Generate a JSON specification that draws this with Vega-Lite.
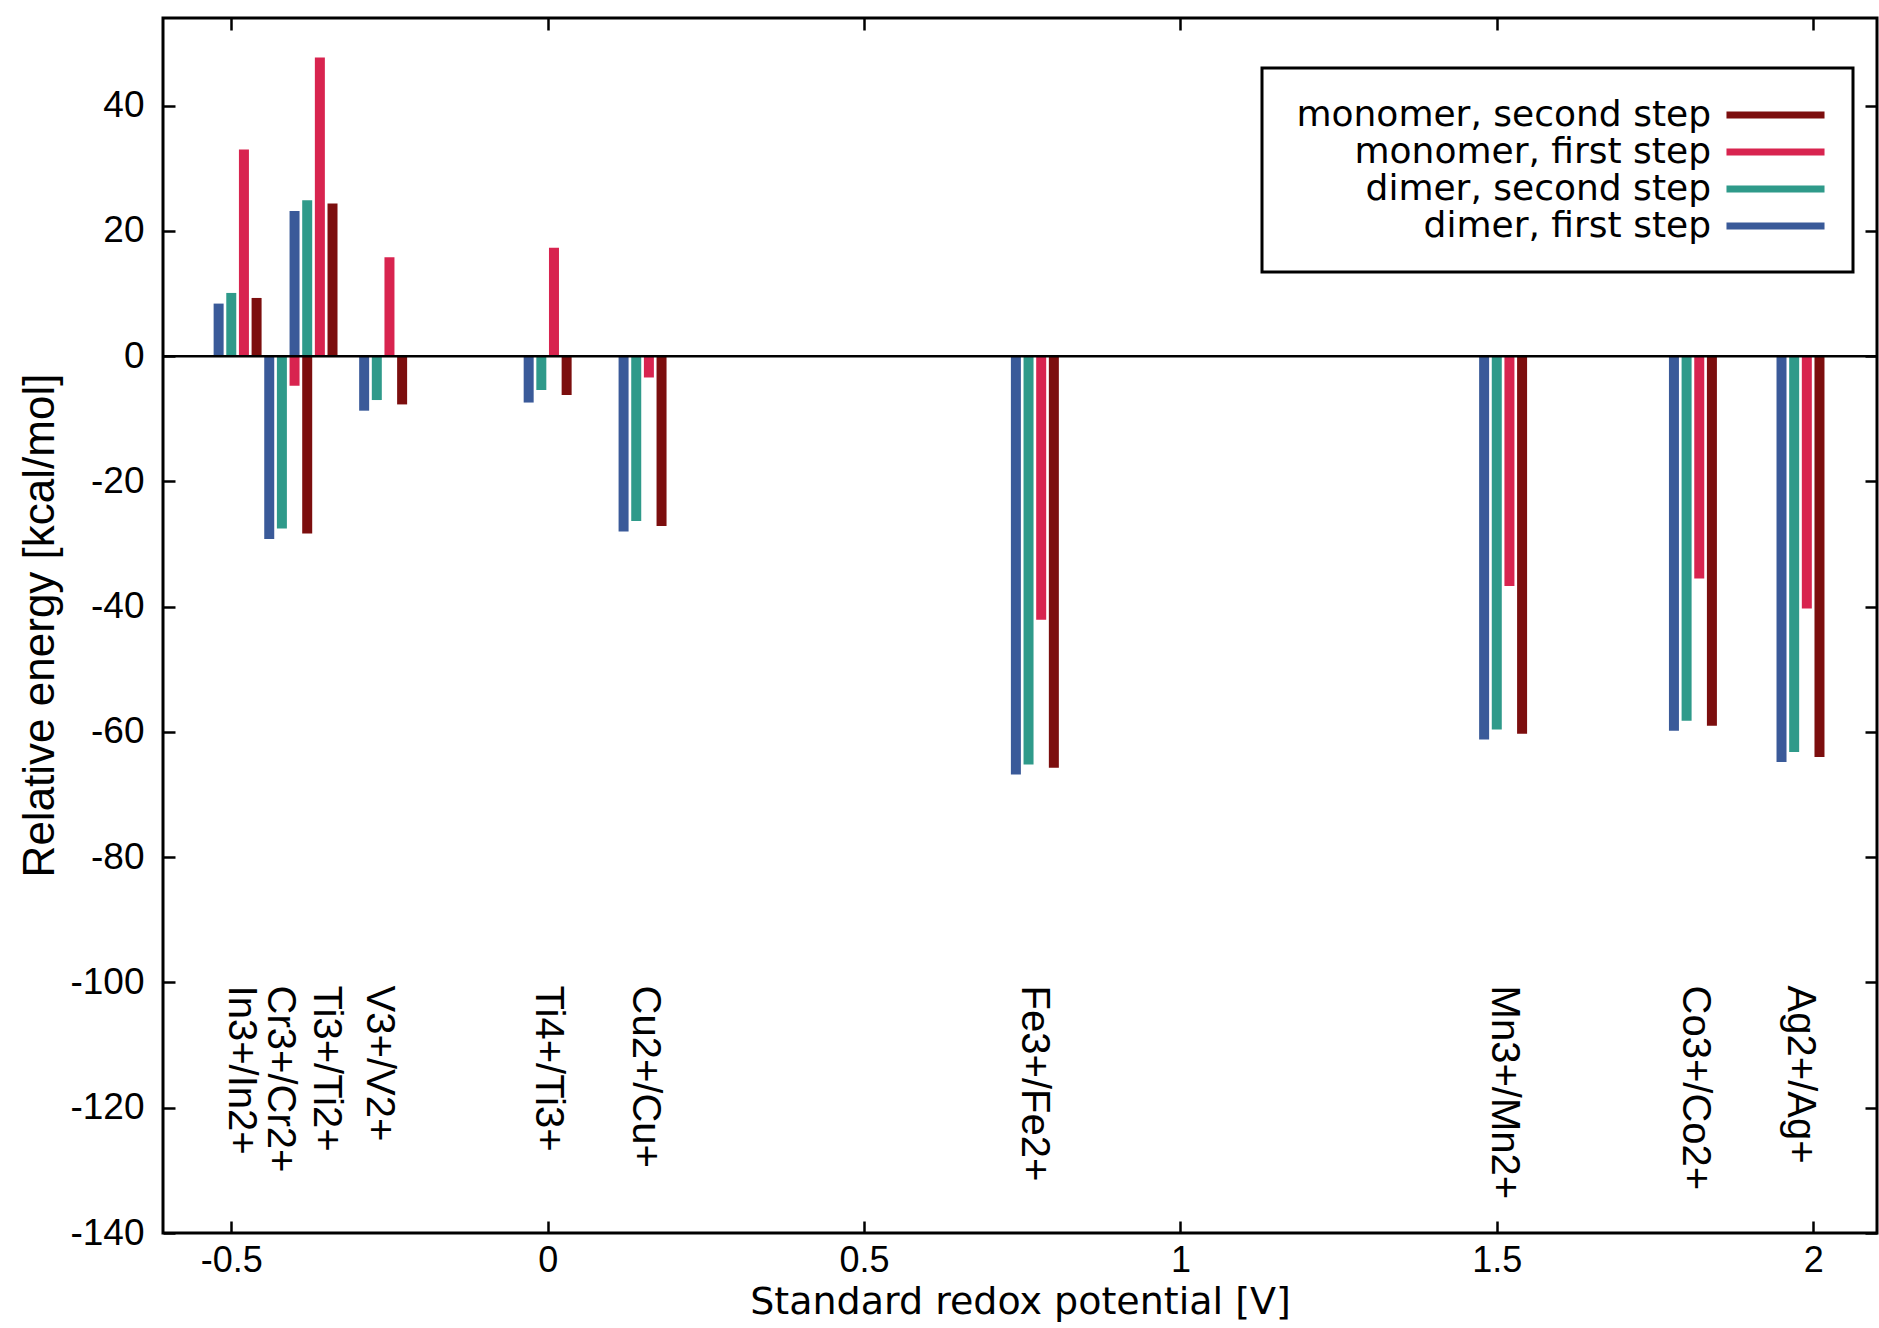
{
  "$schema": "https://vega.github.io/schema/vega-lite/v6.json",
  "width": 1714,
  "height": 1215,
  "autosize": {"type": "none"},
  "padding": {"left": 163, "top": 18, "right": 2, "bottom": 95},
  "background": "white",
  "config": {
    "view": {"stroke": "black", "strokeWidth": 3},
    "font": "Liberation Sans",
    "axis": {
      "grid": false,
      "domain": false,
      "tickColor": "black",
      "tickWidth": 2.5,
      "tickSize": -12,
      "labelColor": "black",
      "titleColor": "black",
      "labelFont": "Liberation Sans",
      "titleFont": "Liberation Sans",
      "titleFontWeight": "normal"
    }
  },
  "datasets": {
    "bars": [
      {"couple": "In3+/In2+", "series": "dimer, first step", "x": -0.52, "energy": 8.4},
      {"couple": "In3+/In2+", "series": "dimer, second step", "x": -0.50, "energy": 10.1},
      {"couple": "In3+/In2+", "series": "monomer, first step", "x": -0.48, "energy": 33.0},
      {"couple": "In3+/In2+", "series": "monomer, second step", "x": -0.46, "energy": 9.3},
      {"couple": "Cr3+/Cr2+", "series": "dimer, first step", "x": -0.44, "energy": -29.2},
      {"couple": "Cr3+/Cr2+", "series": "dimer, second step", "x": -0.42, "energy": -27.5},
      {"couple": "Cr3+/Cr2+", "series": "monomer, first step", "x": -0.40, "energy": -4.7},
      {"couple": "Cr3+/Cr2+", "series": "monomer, second step", "x": -0.38, "energy": -28.3},
      {"couple": "Ti3+/Ti2+", "series": "dimer, first step", "x": -0.40, "energy": 23.2},
      {"couple": "Ti3+/Ti2+", "series": "dimer, second step", "x": -0.38, "energy": 24.9},
      {"couple": "Ti3+/Ti2+", "series": "monomer, first step", "x": -0.36, "energy": 47.7},
      {"couple": "Ti3+/Ti2+", "series": "monomer, second step", "x": -0.34, "energy": 24.4},
      {"couple": "V3+/V2+", "series": "dimer, first step", "x": -0.29, "energy": -8.7},
      {"couple": "V3+/V2+", "series": "dimer, second step", "x": -0.27, "energy": -7.0},
      {"couple": "V3+/V2+", "series": "monomer, first step", "x": -0.25, "energy": 15.8},
      {"couple": "V3+/V2+", "series": "monomer, second step", "x": -0.23, "energy": -7.7},
      {"couple": "Ti4+/Ti3+", "series": "dimer, first step", "x": -0.03, "energy": -7.4},
      {"couple": "Ti4+/Ti3+", "series": "dimer, second step", "x": -0.01, "energy": -5.4},
      {"couple": "Ti4+/Ti3+", "series": "monomer, first step", "x": 0.01, "energy": 17.3},
      {"couple": "Ti4+/Ti3+", "series": "monomer, second step", "x": 0.03, "energy": -6.2},
      {"couple": "Cu2+/Cu+", "series": "dimer, first step", "x": 0.12, "energy": -28.0},
      {"couple": "Cu2+/Cu+", "series": "dimer, second step", "x": 0.14, "energy": -26.3},
      {"couple": "Cu2+/Cu+", "series": "monomer, first step", "x": 0.16, "energy": -3.4},
      {"couple": "Cu2+/Cu+", "series": "monomer, second step", "x": 0.18, "energy": -27.1},
      {"couple": "Fe3+/Fe2+", "series": "dimer, first step", "x": 0.74, "energy": -66.8},
      {"couple": "Fe3+/Fe2+", "series": "dimer, second step", "x": 0.76, "energy": -65.2},
      {"couple": "Fe3+/Fe2+", "series": "monomer, first step", "x": 0.78, "energy": -42.1},
      {"couple": "Fe3+/Fe2+", "series": "monomer, second step", "x": 0.80, "energy": -65.7},
      {"couple": "Mn3+/Mn2+", "series": "dimer, first step", "x": 1.48, "energy": -61.2},
      {"couple": "Mn3+/Mn2+", "series": "dimer, second step", "x": 1.50, "energy": -59.6},
      {"couple": "Mn3+/Mn2+", "series": "monomer, first step", "x": 1.52, "energy": -36.7},
      {"couple": "Mn3+/Mn2+", "series": "monomer, second step", "x": 1.54, "energy": -60.3},
      {"couple": "Co3+/Co2+", "series": "dimer, first step", "x": 1.78, "energy": -59.8},
      {"couple": "Co3+/Co2+", "series": "dimer, second step", "x": 1.80, "energy": -58.2},
      {"couple": "Co3+/Co2+", "series": "monomer, first step", "x": 1.82, "energy": -35.5},
      {"couple": "Co3+/Co2+", "series": "monomer, second step", "x": 1.84, "energy": -59.0},
      {"couple": "Ag2+/Ag+", "series": "dimer, first step", "x": 1.95, "energy": -64.8},
      {"couple": "Ag2+/Ag+", "series": "dimer, second step", "x": 1.97, "energy": -63.2},
      {"couple": "Ag2+/Ag+", "series": "monomer, first step", "x": 1.99, "energy": -40.3},
      {"couple": "Ag2+/Ag+", "series": "monomer, second step", "x": 2.01, "energy": -64.0}
    ],
    "labels": [
      {"couple": "In3+/In2+", "label_x": -0.485},
      {"couple": "Cr3+/Cr2+", "label_x": -0.423},
      {"couple": "Ti3+/Ti2+", "label_x": -0.350},
      {"couple": "V3+/V2+", "label_x": -0.267},
      {"couple": "Ti4+/Ti3+", "label_x": 0.000},
      {"couple": "Cu2+/Cu+", "label_x": 0.154},
      {"couple": "Fe3+/Fe2+", "label_x": 0.768},
      {"couple": "Mn3+/Mn2+", "label_x": 1.511},
      {"couple": "Co3+/Co2+", "label_x": 1.813},
      {"couple": "Ag2+/Ag+", "label_x": 1.979}
    ]
  },
  "layer": [
    {
      "data": {"name": "bars"},
      "mark": {"type": "bar", "width": 10, "orient": "vertical"},
      "encoding": {
        "x": {
          "field": "x",
          "type": "quantitative",
          "scale": {"domain": [-0.6, 2.093], "nice": false, "zero": false},
          "axis": {
            "orient": "bottom",
            "values": [-0.5, 0, 0.5, 1, 1.5, 2],
            "labelExpr": "'' + datum.value",
            "labelFontSize": 36,
            "labelPadding": 22,
            "title": "Standard redox potential [V]",
            "titleFont": "DejaVu Sans",
            "titleFontSize": 38,
            "titleX": 857,
            "titleY": 69,
            "titleAlign": "center",
            "titleBaseline": "middle",
            "titleAnchor": null
          }
        },
        "y": {
          "field": "energy",
          "type": "quantitative",
          "scale": {"domain": [-140, 54], "nice": false, "zero": false},
          "axis": {
            "orient": "left",
            "values": [-140, -120, -100, -80, -60, -40, -20, 0, 20, 40],
            "labelExpr": "'' + datum.value",
            "labelFontSize": 37,
            "labelPadding": 31,
            "title": "Relative energy [kcal/mol]",
            "titleFontSize": 44,
            "titleAngle": -90,
            "titleX": -123,
            "titleY": 607,
            "titleAlign": "center",
            "titleBaseline": "middle",
            "titleAnchor": null
          }
        },
        "y2": {"datum": 0},
        "color": {
          "field": "series",
          "type": "nominal",
          "scale": {
            "domain": ["monomer, second step", "monomer, first step", "dimer, second step", "dimer, first step"],
            "range": ["#7c0e0e", "#d8244f", "#2f9a8a", "#3a5a99"]
          },
          "legend": {
            "orient": "none",
            "legendX": 1099,
            "legendY": 50,
            "title": null,
            "direction": "vertical",
            "symbolType": "M-2.58,-0.18L2.58,-0.18L2.58,0.18L-2.58,0.18Z",
            "symbolSize": 1444,
            "symbolStrokeWidth": 0,
            "symbolOpacity": 1,
            "symbolOffset": 466.5,
            "labelOffset": -83.5,
            "labelAlign": "right",
            "labelFontSize": 36,
            "labelFont": "DejaVu Sans",
            "labelColor": "black",
            "labelLimit": 1000,
            "padding": 28,
            "rowPadding": 0,
            "strokeColor": "black",
            "fillColor": "white",
            "encode": {"legend": {"update": {"strokeWidth": {"value": 3}}}}
          }
        }
      }
    },
    {
      "data": {"values": [{}]},
      "mark": {"type": "rule", "color": "black", "strokeWidth": 2.5},
      "encoding": {"y": {"datum": 0, "type": "quantitative", "scale": {"domain": [-140, 54], "nice": false, "zero": false}, "axis": null}}
    },
    {
      "data": {"name": "labels"},
      "mark": {"type": "text", "angle": 90, "align": "left", "baseline": "middle", "fontSize": 40, "font": "Liberation Sans", "color": "black"},
      "encoding": {
        "x": {"field": "label_x", "type": "quantitative", "scale": {"domain": [-0.6, 2.093], "nice": false, "zero": false}, "axis": null},
        "y": {"datum": -100.5, "type": "quantitative", "scale": {"domain": [-140, 54], "nice": false, "zero": false}, "axis": null},
        "text": {"field": "couple"}
      }
    },
    {
      "data": {"name": "bars"},
      "mark": {"type": "point", "opacity": 0},
      "encoding": {
        "x": {
          "field": "x",
          "type": "quantitative",
          "scale": {"domain": [-0.6, 2.093], "nice": false, "zero": false},
          "axis": {"orient": "top", "values": [-0.5, 0, 0.5, 1, 1.5, 2], "labels": false, "title": null}
        },
        "y": {
          "field": "energy",
          "type": "quantitative",
          "scale": {"domain": [-140, 54], "nice": false, "zero": false},
          "axis": {"orient": "right", "values": [-140, -120, -100, -80, -60, -40, -20, 0, 20, 40], "labels": false, "title": null}
        }
      }
    }
  ],
  "resolve": {"axis": {"x": "independent", "y": "independent"}}
}
